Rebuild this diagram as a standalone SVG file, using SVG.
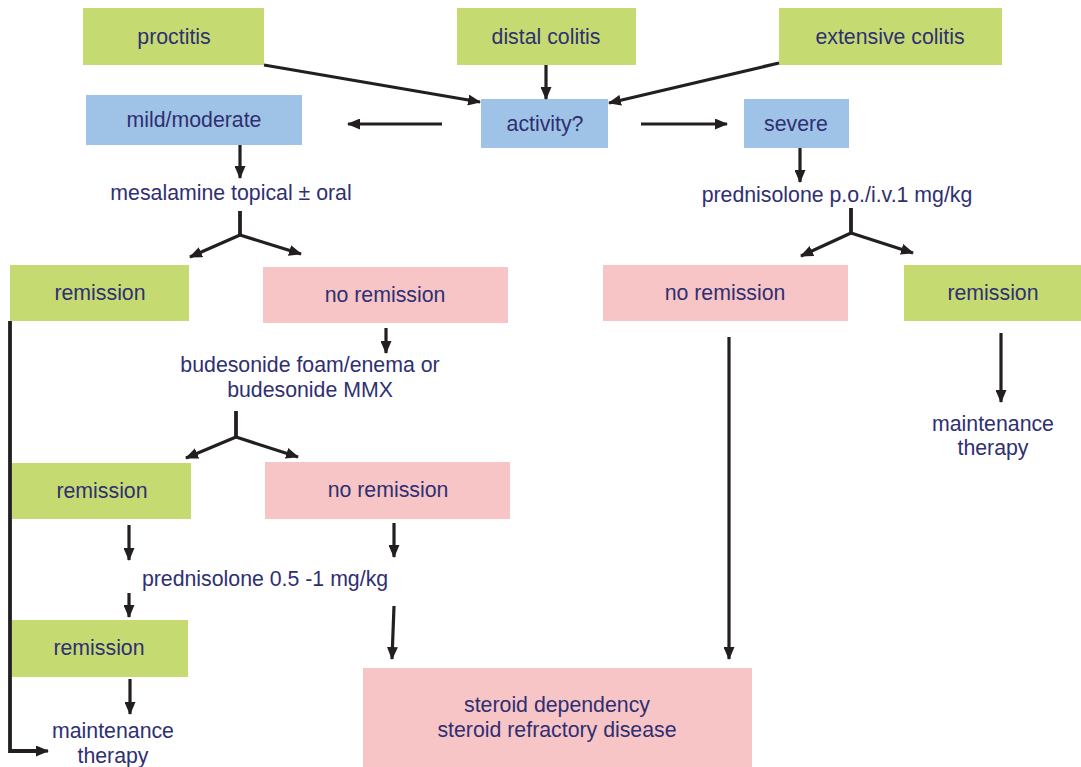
<svg xmlns="http://www.w3.org/2000/svg" width="1081" height="767" viewBox="0 0 1081 767">
  <style>
    .green { fill: #c5db72; }
    .blue { fill: #9fc3e6; }
    .pink { fill: #f7c5c6; }
    text { font-family: "Liberation Sans", Arial, sans-serif; font-size: 21.3px; fill: #2f2f72; text-anchor: middle; }
    .conn { stroke: #231f20; stroke-width: 3.2; fill: none; marker-end: url(#head); }
    .bar { stroke: #231f20; stroke-width: 3.8; fill: none; }
  </style>
  <defs>
    <marker id="head" viewBox="0 0 13 11" refX="12" refY="5.5" markerWidth="13" markerHeight="11" markerUnits="userSpaceOnUse" orient="auto">
      <path d="M0,0 L13,5.5 L0,11 Z" fill="#231f20"/>
    </marker>
  </defs>
  <rect width="1081" height="767" fill="#ffffff"/>

  <!-- localisation -->
  <g id="proctitis"><rect class="green" x="83" y="8" width="181" height="57"/><text x="174" y="44">proctitis</text></g>
  <g id="distal-colitis"><rect class="green" x="457" y="8" width="179" height="57"/><text x="546" y="44">distal colitis</text></g>
  <g id="extensive-colitis"><rect class="green" x="779" y="8" width="223" height="57"/><text x="890" y="44">extensive colitis</text></g>

  <!-- activity -->
  <g id="mild-moderate"><rect class="blue" x="86" y="95" width="216" height="50"/><text x="194" y="127">mild/moderate</text></g>
  <g id="activity"><rect class="blue" x="481" y="99" width="127" height="49"/><text x="545" y="131">activity?</text></g>
  <g id="severe"><rect class="blue" x="744" y="99" width="105" height="49"/><text x="796" y="131">severe</text></g>

  <!-- treatments -->
  <g id="mesalamine"><text x="231" y="200">mesalamine topical ± oral</text></g>
  <g id="prednisolone-iv"><text x="837" y="202">prednisolone p.o./i.v.1 mg/kg</text></g>

  <g id="remission-1"><rect class="green" x="10" y="265" width="179" height="56"/><text x="100" y="300">remission</text></g>
  <g id="no-remission-1"><rect class="pink" x="263" y="267" width="245" height="56"/><text x="385" y="302">no remission</text></g>
  <g id="no-remission-r"><rect class="pink" x="603" y="265" width="245" height="56"/><text x="725" y="300">no remission</text></g>
  <g id="remission-r"><rect class="green" x="904" y="265" width="177" height="56"/><text x="993" y="300">remission</text></g>

  <g id="budesonide"><text x="310" y="372">budesonide foam/enema or</text><text x="310" y="397">budesonide MMX</text></g>
  <g id="maintenance-r"><text x="993" y="431">maintenance</text><text x="993" y="455">therapy</text></g>

  <g id="remission-2"><rect class="green" x="12" y="463" width="179" height="56"/><text x="102" y="498">remission</text></g>
  <g id="no-remission-2"><rect class="pink" x="265" y="462" width="245" height="57"/><text x="388" y="497">no remission</text></g>

  <g id="prednisolone-oral"><text x="265" y="586">prednisolone 0.5 -1 mg/kg</text></g>

  <g id="remission-3"><rect class="green" x="12" y="620" width="176" height="57"/><text x="99" y="655">remission</text></g>
  <g id="maintenance-l"><text x="113" y="738">maintenance</text><text x="113" y="763">therapy</text></g>

  <g id="steroid"><rect class="pink" x="363" y="668" width="389" height="99"/><text x="557" y="712">steroid dependency</text><text x="557" y="737">steroid refractory disease</text></g>

  <!-- connectors -->
  <g id="connectors">
    <line class="conn" x1="264" y1="65" x2="480" y2="102"/>
    <line class="conn" x1="546" y1="65" x2="546" y2="99"/>
    <line class="conn" x1="779" y1="63" x2="609" y2="103"/>
    <line class="conn" x1="442" y1="124" x2="348" y2="124"/>
    <line class="conn" x1="641" y1="124" x2="727" y2="124"/>
    <line class="conn" x1="240" y1="145" x2="240" y2="178"/>
    <line class="conn" x1="800" y1="148" x2="800" y2="182"/>

    <!-- fork after mesalamine -->
    <line class="bar" x1="240" y1="211" x2="240" y2="236"/>
    <line class="conn" x1="240" y1="235" x2="190" y2="257"/>
    <line class="conn" x1="240" y1="235" x2="301" y2="254"/>

    <!-- fork after prednisolone i.v. -->
    <line class="bar" x1="851" y1="208" x2="851" y2="234"/>
    <line class="conn" x1="851" y1="233" x2="801" y2="256"/>
    <line class="conn" x1="851" y1="233" x2="913" y2="253"/>

    <line class="conn" x1="386" y1="328" x2="386" y2="353"/>

    <!-- fork after budesonide -->
    <line class="bar" x1="236" y1="411" x2="236" y2="438"/>
    <line class="conn" x1="236" y1="437" x2="186" y2="458"/>
    <line class="conn" x1="236" y1="437" x2="298" y2="457"/>

    <line class="conn" x1="1001" y1="333" x2="1001" y2="402"/>
    <line class="conn" x1="729" y1="337" x2="729" y2="659"/>

    <line class="conn" x1="129" y1="525" x2="129" y2="560"/>
    <line class="conn" x1="394" y1="523" x2="394" y2="557"/>
    <line class="conn" x1="129" y1="593" x2="129" y2="617"/>
    <line class="conn" x1="394" y1="606" x2="392" y2="659"/>
    <line class="conn" x1="130" y1="679" x2="130" y2="714"/>

    <!-- remission bypass to maintenance -->
    <polyline class="bar" points="10,321 10,751 40,751" stroke-width="5"/>
    <line class="conn" x1="38" y1="751" x2="48" y2="751"/>
  </g>
</svg>
